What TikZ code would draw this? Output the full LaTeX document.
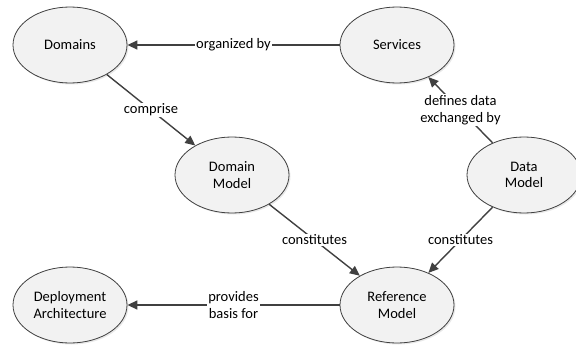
\documentclass[tikz,border=0pt]{standalone}
\usepackage{fontspec}
\setmainfont{Carlito}
\usetikzlibrary{arrows.meta,shapes.geometric,shadows}

\definecolor{linegray}{HTML}{404040}
\definecolor{nodefill}{HTML}{F2F2F2}

\begin{document}
\begin{tikzpicture}[x=1pt,y=-1pt,>={Triangle[length=10pt,width=9pt]},
  concept/.style={ellipse,draw=linegray,line width=0.8pt,fill=nodefill,
    minimum width=114pt,minimum height=76pt,inner sep=0pt,align=center,
    drop shadow={shadow xshift=1.5pt,shadow yshift=-1.5pt,fill=black!18}},
  rel/.style={->,draw=linegray,line width=1.4pt},
  lbl/.style={fill=white,inner sep=1pt,align=center,text=black}]
  \useasboundingbox (0,0) rectangle (576,345);
  \fontsize{14.5}{16.5}\selectfont

  % Concepts
  \node[concept] (domains)  at (70,45)   {Domains};
  \node[concept] (services) at (397,45)  {Services};
  \node[concept] (dommodel) at (232,175) {Domain\\Model};
  \node[concept] (datamodel) at (524,175) {Data\\Model};
  \node[concept] (deploy)   at (70,305)  {Deployment\\Architecture};
  \node[concept] (refmodel) at (397,305) {Reference\\Model};

  % Relations
  \draw[rel] (services) -- (domains) node[lbl,midway] {organized by};
  \draw[rel] (domains) -- (dommodel) node[lbl,midway] {comprise};
  \draw[rel] (datamodel) -- (services) node[lbl,midway] {defines data\\exchanged by};
  \draw[rel] (dommodel) -- (refmodel) node[lbl,midway] {constitutes};
  \draw[rel] (datamodel) -- (refmodel) node[lbl,midway] {constitutes};
  \draw[rel] (refmodel) -- (deploy) node[lbl,midway] {provides\\basis for};

\end{tikzpicture}
\end{document}
